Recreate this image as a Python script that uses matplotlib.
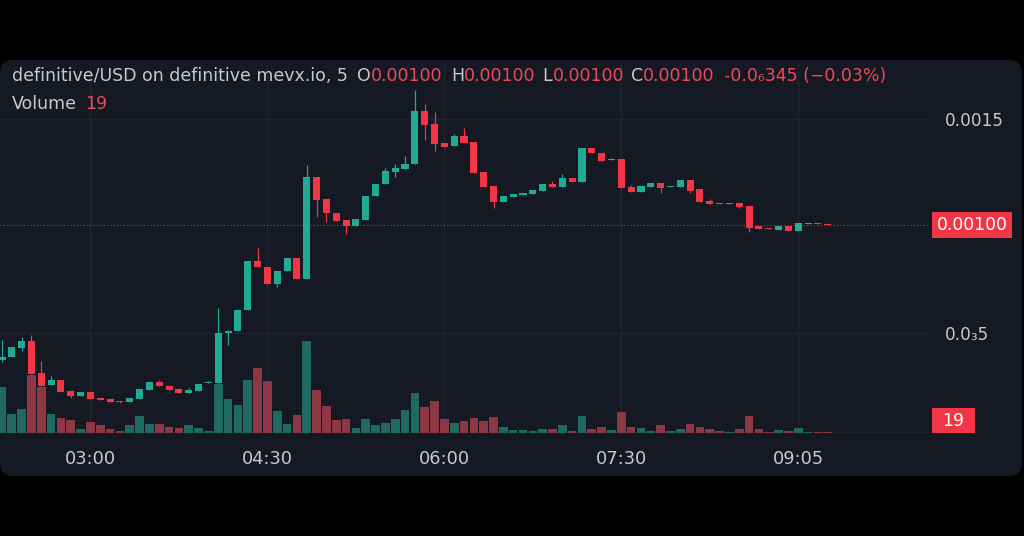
import matplotlib
matplotlib.use("Agg")
import matplotlib.pyplot as plt
from matplotlib.patches import FancyBboxPatch, Rectangle
from matplotlib.transforms import IdentityTransform

# 5-minute candles, prices in millionths of USD (1500 -> 0.0015)
opens = [374, 388, 430, 463, 313, 257, 280, 229, 206, 224,
         196, 192, 182, 178, 192, 234, 271, 252, 238, 220,
         229, 266, 266, 500, 509, 608, 836, 808, 729, 790,
         851, 752, 1229, 1126, 1061, 1028, 1000, 1028, 1140, 1196,
         1252, 1266, 1290, 1537, 1477, 1388, 1374, 1421, 1393, 1252,
         1187, 1112, 1136, 1145, 1150, 1164, 1196, 1182, 1224, 1206,
         1365, 1341, 1308, 1313, 1182, 1159, 1182, 1201, 1182, 1182,
         1215, 1173, 1117, 1108, 1103, 1108, 1093, 1000, 991, 981,
         1000, 977, 1009, 1014, 1009]
highs = [467, 435, 481, 491, 369, 299, 280, 229, 224, 224,
         196, 192, 182, 196, 238, 271, 280, 252, 238, 243,
         262, 276, 617, 514, 608, 836, 897, 808, 790, 851,
         851, 1285, 1229, 1126, 1061, 1028, 1033, 1140, 1196, 1271,
         1290, 1327, 1636, 1570, 1533, 1388, 1430, 1458, 1393, 1252,
         1187, 1140, 1150, 1154, 1168, 1196, 1210, 1243, 1224, 1365,
         1365, 1341, 1318, 1313, 1192, 1187, 1201, 1201, 1187, 1215,
         1215, 1173, 1126, 1108, 1108, 1108, 1093, 1000, 991, 1000,
         1000, 1014, 1014, 1014, 1009]
lows = [364, 388, 416, 308, 252, 257, 224, 196, 206, 192,
        187, 178, 175, 178, 192, 234, 252, 234, 220, 220,
        229, 266, 266, 444, 509, 608, 808, 729, 715, 790,
        752, 752, 1042, 1019, 1023, 963, 1000, 1028, 1140, 1196,
        1229, 1266, 1290, 1402, 1351, 1369, 1374, 1388, 1248, 1182,
        1084, 1112, 1136, 1145, 1150, 1164, 1182, 1182, 1206, 1206,
        1341, 1304, 1308, 1178, 1159, 1159, 1182, 1154, 1182, 1182,
        1154, 1112, 1103, 1103, 1103, 1084, 972, 986, 986, 981,
        977, 977, 1009, 1009, 1005]
closes = [388, 435, 463, 308, 252, 280, 224, 206, 224, 192,
          187, 178, 178, 196, 238, 271, 252, 234, 220, 234,
          262, 271, 500, 509, 608, 836, 808, 729, 790, 851,
          752, 1229, 1122, 1061, 1023, 1000, 1033, 1140, 1196, 1257,
          1271, 1290, 1537, 1472, 1383, 1369, 1421, 1388, 1248, 1182,
          1112, 1140, 1150, 1154, 1168, 1196, 1182, 1224, 1206, 1365,
          1341, 1304, 1313, 1178, 1159, 1187, 1201, 1178, 1187, 1215,
          1164, 1112, 1103, 1103, 1108, 1089, 991, 986, 986, 1000,
          977, 1014, 1014, 1009, 1005]
volumes = [870, 360, 460, 1100, 870, 360, 285, 245, 75, 210,
           150, 75, 30, 150, 325, 170, 170, 115, 95, 150,
           95, 30, 930, 645, 530, 1005, 1235, 990, 420, 170,
           340, 1750, 815, 515, 245, 265, 95, 265, 150, 190,
           265, 435, 760, 495, 610, 265, 190, 230, 285, 230,
           305, 115, 55, 50, 30, 75, 75, 150, 40, 320,
           75, 110, 55, 400, 115, 90, 30, 150, 40, 75,
           170, 115, 75, 40, 20, 75, 325, 75, 20, 55,
           30, 90, 20, 20, 19]

time_tick_pos = [9, 27, 45, 63, 81]
time_tick_labels = ["03:00", "04:30", "06:00", "07:30", "09:05"]
price_ticks = [0.0005, 0.0015]
price_tick_labels = ["0.0₃5", "0.0015"]
last_price_label = "0.00100"
last_volume_label = "19"

# legend line: (text, colour, gap in px before next piece)
title_parts = [
    ("definitive/USD on definitive mevx.io, 5", "gray", 9),
    ("O", "gray", 0), ("0.00100", "red", 9),
    ("H", "gray", 0), ("0.00100", "red", 7),
    ("L", "gray", 0), ("0.00100", "red", 7),
    ("C", "gray", 0), ("0.00100", "red", 9),
    ("-0.0₆345 (−0.03%)", "red", 0),
]


def main():
    bg = "#000000"
    panel = "#151924"
    grid = "#20242f"
    up = "#22ab94"
    down = "#f23645"
    up_vol = "#1f6a60"
    down_vol = "#8c3743"
    text_gray = "#c6c9d0"
    text_red = "#f04a58"

    W, H = 1024, 536
    fig = plt.figure(figsize=(W / 100, H / 100), dpi=100, facecolor=bg)

    # rounded chart panel
    fig.patches.append(FancyBboxPatch((0.0, 0.60), 10.22, 4.16,
                                      boxstyle="round,pad=0,rounding_size=0.13",
                                      transform=fig.dpi_scale_trans,
                                      facecolor=panel, edgecolor="none", zorder=-5))

    rect = [0, (H - 433) / H, 930 / W, 371 / H]
    ax_vol = fig.add_axes(rect)
    ax = fig.add_axes(rect)
    ax_vol.set_zorder(1)
    ax.set_zorder(2)
    for a in (ax_vol, ax):
        a.patch.set_visible(False)
        for s in a.spines.values():
            s.set_visible(False)

    n = len(closes)
    idx = list(range(n))
    o = [v * 1e-6 for v in opens]
    h = [v * 1e-6 for v in highs]
    l = [v * 1e-6 for v in lows]
    c = [v * 1e-6 for v in closes]
    colors = [up if c[i] >= o[i] else down for i in idx]
    vcolors = [up_vol if c[i] >= o[i] else down_vol for i in idx]

    # volume
    ax_vol.bar(idx, volumes, width=0.88, color=vcolors, zorder=2)
    ax_vol.set_ylim(0, 7049)
    ax_vol.set_xlim(-0.2, 94.4)
    ax_vol.set_xticks([])
    ax_vol.set_yticks([])

    # grid (on the volume axes so it sits under the bars)
    for t in time_tick_pos:
        ax_vol.axvline(t, color=grid, linewidth=1, zorder=1)
    ax_vol.axhline(0, color=grid, linewidth=1.5, zorder=1)
    for p in price_ticks:
        ax.axhline(p, color=grid, linewidth=1, zorder=1)

    # candles
    ax.vlines(idx, l, h, colors=colors, linewidth=0.9, zorder=3)
    bottoms = [min(o[i], c[i]) for i in idx]
    heights = [max(abs(c[i] - o[i]), 3e-6) for i in idx]
    ax.bar(idx, heights, bottom=bottoms, width=0.72, color=colors, zorder=4)

    ax.set_xlim(-0.2, 94.4)
    ax.set_ylim(32.7e-6, 1766.4e-6)

    # last price line
    ax.axhline(c[-1], color=down, linewidth=0.8, linestyle=(0, (1, 2)), alpha=0.8, zorder=2)

    ax.set_xticks(time_tick_pos)
    ax.set_xticklabels(time_tick_labels)
    ax.tick_params(axis="x", length=0, pad=12, labelsize=12.8, labelcolor=text_gray)
    ax.yaxis.tick_right()
    ax.set_yticks(price_ticks)
    ax.set_yticklabels(price_tick_labels)
    ax.tick_params(axis="y", length=0, pad=11, labelsize=12.2, labelcolor=text_gray)

    # price / volume labels on the scale
    fig.canvas.draw()
    renderer = fig.canvas.get_renderer()
    ly = ax.transData.transform((0, c[-1]))[1]
    fig.patches.append(Rectangle((932, ly - 13), 80, 26, transform=IdentityTransform(),
                                 facecolor=down, edgecolor="none", zorder=5))
    fig.text(972 / W, ly / H, last_price_label, color="white", fontsize=12.4,
             ha="center", va="center", zorder=6)
    fig.patches.append(Rectangle((932, H - 433), 43, 25, transform=IdentityTransform(),
                                 facecolor=down, edgecolor="none", zorder=5))
    fig.text(953.5 / W, (H - 421) / H, last_volume_label, color="white", fontsize=12.4,
             ha="center", va="center", zorder=6)

    # legend lines, laid out piece by piece
    x = 12
    for txt, col, gap in title_parts:
        t = fig.text(x / W, (H - 76) / H, txt, color=text_gray if col == "gray" else text_red,
                     fontsize=12.5, ha="left", va="center")
        x += t.get_window_extent(renderer).width + gap
    t = fig.text(12 / W, (H - 104) / H, "Volume", color=text_gray, fontsize=12.5,
                 ha="left", va="center")
    x = 12 + t.get_window_extent(renderer).width + 8
    fig.text(x / W, (H - 104) / H, last_volume_label, color=text_red, fontsize=12.5,
             ha="left", va="center")

    fig.savefig("out.png", dpi=100, facecolor=bg)


if __name__ == "__main__":
    main()
